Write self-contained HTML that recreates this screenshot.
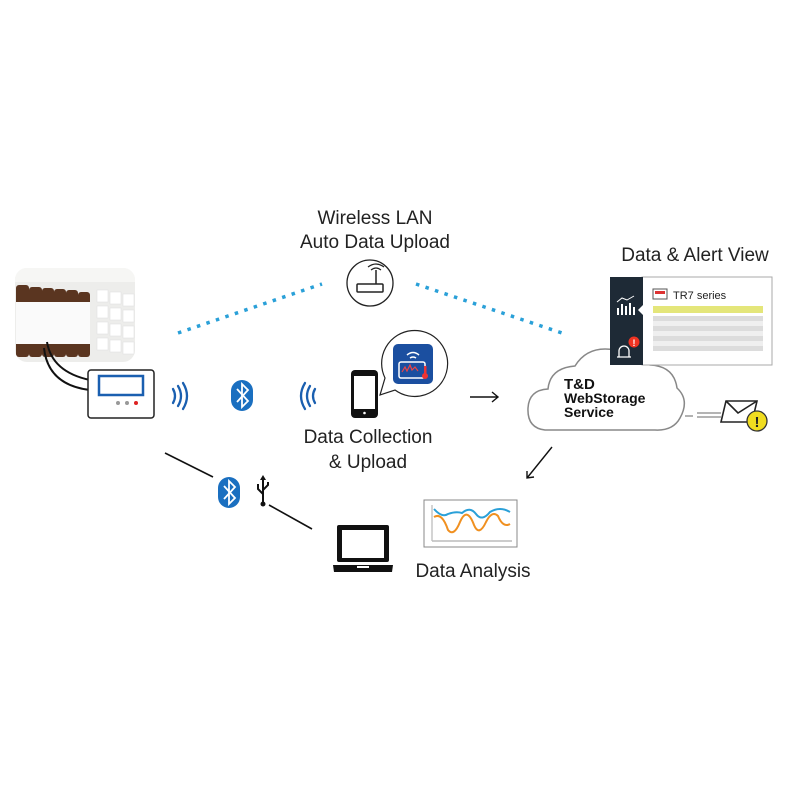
<!DOCTYPE html>
<html><head><meta charset="utf-8"><style>
body{margin:0;background:#fff}
svg{display:block}
text{font-family:"Liberation Sans","DejaVu Sans",sans-serif}
</style></head><body>
<svg width="800" height="800" viewBox="0 0 800 800" xmlns="http://www.w3.org/2000/svg">
<defs><clipPath id="ph"><rect x="15" y="268" width="120" height="94" rx="12"/></clipPath></defs>
<!-- photo -->
<g clip-path="url(#ph)">
<rect x="15" y="268" width="120" height="94" fill="#ededeb"/>
<rect x="15" y="268" width="120" height="14" fill="#f6f6f4"/>
<g fill="#5a3520">
<rect x="16" y="285" width="13" height="72" rx="3"/><rect x="29" y="287" width="13" height="70" rx="3"/><rect x="42" y="288" width="12" height="69" rx="3"/><rect x="54" y="289" width="12" height="68" rx="3"/><rect x="66" y="290" width="12" height="67" rx="3"/><rect x="78" y="292" width="12" height="65" rx="3"/>
</g>
<g fill="#fafafa"><rect x="16" y="302" width="74" height="42"/></g>
<g fill="#fff" stroke="#ddd" stroke-width="0.5">
<rect x="97" y="290" width="11" height="12"/><rect x="110" y="292" width="11" height="12"/><rect x="123" y="294" width="11" height="12"/>
<rect x="97" y="306" width="11" height="12"/><rect x="110" y="308" width="11" height="12"/><rect x="123" y="310" width="11" height="12"/>
<rect x="97" y="322" width="11" height="12"/><rect x="110" y="324" width="11" height="12"/><rect x="123" y="326" width="11" height="12"/>
<rect x="97" y="338" width="11" height="12"/><rect x="110" y="340" width="11" height="12"/><rect x="123" y="342" width="11" height="12"/>
</g>
</g>
<!-- cables -->
<path d="M47 342 Q52 372 90 380" fill="none" stroke="#111" stroke-width="2"/>
<path d="M44 348 Q48 385 90 390" fill="none" stroke="#111" stroke-width="2"/>
<!-- logger -->
<rect x="88" y="370" width="66" height="48" rx="3" fill="#fff" stroke="#222" stroke-width="1.5"/>
<rect x="99" y="376" width="44" height="19" fill="#fff" stroke="#1a5fb0" stroke-width="2.5"/>
<circle cx="118" cy="403" r="2" fill="#999"/><circle cx="127" cy="403" r="2" fill="#999"/><circle cx="136" cy="403" r="2" fill="#d22"/>
<!-- waves -->
<g fill="none" stroke="#1a5fb0" stroke-width="2.3" stroke-linecap="round">
<path d="M173 389 q4 7 0 14"/><path d="M178 386 q6 10 0 20"/><path d="M183 383 q8 13 0 26"/>
<path d="M315 389 q-4 7 0 14"/><path d="M310 386 q-6 10 0 20"/><path d="M305 383 q-8 13 0 26"/>
</g>
<!-- bluetooth -->
<g id="bt"><rect x="231" y="380" width="22" height="31" rx="11" fill="#1a6fc0"/>
<path d="M237 389 L248 401 L242 407 L242 384 L248 390 L237 402" fill="none" stroke="#fff" stroke-width="1.8"/></g>
<use href="#bt" x="-13" y="97"/>
<!-- usb -->
<g stroke="#111" stroke-width="2" fill="none">
<path d="M263 478 V503"/><path d="M263 494 l-5 -5 v-5"/><path d="M263 490 l5 -5 v-3"/>
</g>
<circle cx="263" cy="504" r="2.5" fill="#111"/><path d="M260 480 l3 -5 l3 5z" fill="#111"/>
<!-- lines -->
<line x1="165" y1="453" x2="213" y2="477" stroke="#111" stroke-width="1.6"/>
<line x1="269" y1="505" x2="312" y2="529" stroke="#111" stroke-width="1.6"/>
<!-- dotted -->
<g stroke="#2aa0d8" stroke-width="3.5" stroke-dasharray="3.5 6.5">
<line x1="178" y1="333" x2="322" y2="284"/>
<line x1="416" y1="284" x2="562" y2="333"/>
</g>
<!-- texts -->
<g font-size="19" fill="#222" text-anchor="middle">
<text x="375" y="224">Wireless LAN</text><text x="375" y="248">Auto Data Upload</text>
<text x="368" y="443">Data Collection</text><text x="368" y="468">&amp; Upload</text>
<text x="473" y="577">Data Analysis</text>
<text x="695" y="261">Data &amp; Alert View</text>
</g>
<!-- router -->
<circle cx="370" cy="283" r="23" fill="#fff" stroke="#222" stroke-width="1.3"/>
<rect x="357" y="284" width="26" height="8" rx="1" fill="none" stroke="#222" stroke-width="1.5"/>
<line x1="376" y1="284" x2="376" y2="270" stroke="#222" stroke-width="1.5"/>
<path d="M371 270 q5 -4 10 0 M368 267 q8 -6 16 0" fill="none" stroke="#222" stroke-width="1.2"/>
<!-- phone -->
<rect x="351" y="370" width="27" height="48" rx="4" fill="#111"/>
<rect x="354" y="376" width="21" height="33" fill="#fff"/>
<circle cx="364.5" cy="413" r="1.3" fill="#fff"/>
<!-- bubble -->
<path d="M385 378 A33 33 0 1 1 395 390 L380 395 Z" fill="#fff" stroke="#222" stroke-width="1.2"/>
<rect x="393" y="344" width="40" height="40" rx="5" fill="#1b4fa0"/>
<rect x="399" y="362" width="26" height="16" rx="2" fill="none" stroke="#fff" stroke-width="1.5"/>
<path d="M402 372 l3 -5 l2 4 l3 -6 l2 5 l3 -3 l3 4" fill="none" stroke="#e44" stroke-width="1.2"/>
<path d="M407 355 q6 -5 12 0 M410 358 q3 -2 6 0" fill="none" stroke="#fff" stroke-width="1.5"/>
<circle cx="425" cy="376" r="3" fill="#e33"/><rect x="424" y="366" width="2.5" height="9" fill="#e33"/>
<!-- arrows -->
<g stroke="#111" stroke-width="1.4" fill="none">
<path d="M470 397 H498 M492 392 L498 397 L492 402"/>
<path d="M552 447 L527 478 M527 471 L527 478 L534 477"/>
</g>
<!-- cloud -->
<path d="M545 430 Q527 428 528 408 Q529 390 548 389 Q550 368 575 366 Q588 345 615 350 Q640 345 650 365 Q674 366 677 388 Q690 400 680 418 Q673 431 655 430 Z" fill="#fff" stroke="#888" stroke-width="1.5"/>
<g font-weight="bold" font-size="14" fill="#111" font-family="'DejaVu Sans',sans-serif"><text x="564" y="389" font-size="15">T&amp;D</text><text x="564" y="403">WebStorage</text><text x="564" y="417">Service</text></g>
<!-- panel -->
<rect x="642" y="277" width="130" height="88" fill="#fff" stroke="#aaa"/>
<rect x="610" y="277" width="33" height="88" fill="#1e2a36"/>
<path d="M643 305 l-5 5 l5 5z" fill="#fff"/>
<g stroke="#fff" stroke-width="2"><line x1="618" y1="315" x2="618" y2="308"/><line x1="622" y1="315" x2="622" y2="304"/><line x1="626" y1="315" x2="626" y2="306"/><line x1="630" y1="315" x2="630" y2="303"/><line x1="634" y1="315" x2="634" y2="307"/></g>
<path d="M617 302 L622 298 L627 300 L634 296" fill="none" stroke="#fff" stroke-width="1"/>
<path d="M617 357 h14 M619 357 v-6 a5 5 0 0 1 10 0 v6" fill="none" stroke="#fff" stroke-width="1.3"/>
<circle cx="634" cy="342" r="5.5" fill="#e32"/><text x="634" y="346" font-size="9" fill="#fff" text-anchor="middle" font-weight="bold">!</text>
<rect x="653" y="289" width="14" height="10" fill="#fff" stroke="#555"/><rect x="655" y="291" width="10" height="3" fill="#d33"/>
<text x="673" y="299" font-size="11" fill="#222">TR7 series</text>
<rect x="653" y="306" width="110" height="7" fill="#e4e67a"/>
<g fill="#dcdcdc"><rect x="653" y="316" width="110" height="5"/><rect x="653" y="326" width="110" height="5"/><rect x="653" y="336" width="110" height="5"/><rect x="653" y="346" width="110" height="5"/></g>
<g fill="#efefef"><rect x="653" y="321" width="110" height="5"/><rect x="653" y="331" width="110" height="5"/><rect x="653" y="341" width="110" height="5"/></g>
<!-- envelope -->
<g stroke="#888" stroke-width="1.3"><line x1="685" y1="416" x2="693" y2="416"/><line x1="697" y1="413" x2="721" y2="413"/><line x1="697" y1="417" x2="721" y2="417"/></g>
<path d="M726 401 L757 401 L752 422 L721 422 Z" fill="#fff" stroke="#222" stroke-width="1.6"/>
<path d="M726 401 L738 413 L757 401" fill="none" stroke="#222" stroke-width="1.6"/>
<circle cx="757" cy="421" r="10" fill="#f0dc20" stroke="#333" stroke-width="1.3"/>
<text x="757" y="427" font-size="15" font-weight="bold" text-anchor="middle" fill="#222">!</text>
<!-- laptop -->
<rect x="337" y="525" width="52" height="37" rx="2" fill="#111"/>
<rect x="342" y="530" width="42" height="28" fill="#fff"/>
<path d="M333 565 H393 L392 572 H334 Z" fill="#111"/><rect x="357" y="566" width="12" height="2" fill="#fff"/>
<!-- chart -->
<rect x="424" y="500" width="93" height="47" fill="#fff" stroke="#888"/>
<line x1="432" y1="505" x2="432" y2="541" stroke="#aaa"/><line x1="432" y1="541" x2="512" y2="541" stroke="#bbb" stroke-width="1.5"/>
<path d="M434 509 Q442 518 448 514 Q456 511 462 513 Q470 506 476 514 Q482 522 490 512 Q500 506 510 512" fill="none" stroke="#2aa0d8" stroke-width="2"/>
<path d="M434 517 Q442 512 448 530 Q454 537 460 522 Q467 506 474 525 Q479 537 486 522 Q492 510 498 516 Q503 528 510 524" fill="none" stroke="#f09020" stroke-width="2"/>
</svg>
</body></html>
